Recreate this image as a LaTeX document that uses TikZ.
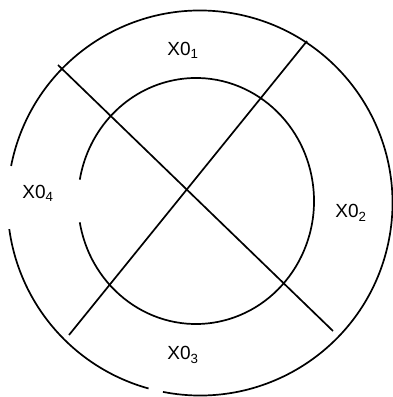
\documentclass[tikz,border=0pt]{standalone}
\usepackage{fontspec}
\setmainfont{Liberation Sans}
\usetikzlibrary{positioning}

\begin{document}
\begin{tikzpicture}[
    x=1pt, y=1pt,
    ring/.style={line width=1.7pt},
    cut/.style={line width=1.7pt},
    zone/.style={font=\fontsize{19}{21}\selectfont, inner sep=0pt}
  ]
    \useasboundingbox (0,0) rectangle (393,397);

    % outer ring, open at left and bottom
    \coordinate (outc) at (200,194);
    \draw[ring] (outc) ++(187.8:192.5) arc[start angle=187.8, end angle=254.5, radius=192.5];
    \draw[ring] (outc) ++(258.9:192.5) arc[start angle=258.9, end angle=528.9, radius=192.5];

    % inner ring, open at left
    \coordinate (inc) at (196,196);
    \draw[ring] (inc) ++(190:118 and 123) arc[start angle=190, end angle=530, x radius=118, y radius=123];

    % crossing cuts
    \coordinate (a1) at (58,332);
    \coordinate (a2) at (333,66);
    \coordinate (b1) at (307,356);
    \coordinate (b2) at (69,62);
    \draw[cut] (a1) -- (a2);
    \draw[cut] (b1) -- (b2);

    \node[zone] (x1) at (183,347) {X0\textsubscript{1}};
    \node[zone] (x2) at (351,184) {X0\textsubscript{2}};
    \node[zone] (x3) at (183,42) {X0\textsubscript{3}};
    \node[zone] (x4) at (38,204) {X0\textsubscript{4}};
  \end{tikzpicture}
\end{document}
